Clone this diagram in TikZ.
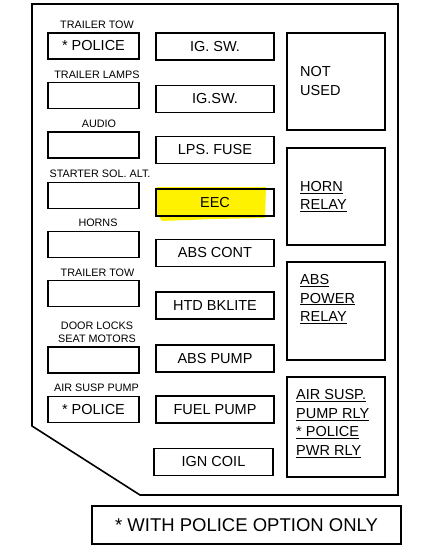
\documentclass[tikz,border=0pt]{standalone}
\usepackage{fontspec}
\setmainfont{Liberation Sans}
\usepackage{tikz}

\begin{document}
\begin{tikzpicture}[x=1pt, y=-1pt,
    fuse/.style={draw, line width=1.4pt, minimum width=91pt, minimum height=26pt, inner sep=0pt, font=\fontsize{14.5}{17}\selectfont},
    midfuse/.style={fuse, minimum width=118pt, minimum height=27pt},
    relay/.style={draw, line width=1.4pt, minimum width=98pt, minimum height=97pt, inner sep=0pt},
    relaytext/.style={anchor=west, align=left, inner sep=0pt, font=\fontsize{14.5}{18.5}\selectfont},
    tag/.style={inner sep=0pt, align=center, font=\fontsize{10.8}{13}\selectfont}]

\useasboundingbox (0,0) rectangle (434,557);

% --- PANEL OUTLINE ---
\coordinate (A) at (32,4);
\coordinate (B) at (398,4);
\coordinate (C) at (398,495);
\coordinate (D) at (140,495);
\coordinate (E) at (32,426);
\draw[line width=1.6pt, line join=miter] (A)--(B)--(C)--(D)--(E)--cycle;

% highlight behind EEC
\fill[yellow] (157,187) -- (266,187) -- (265,218) -- (215,219) -- (162,221) -- (157,214) -- cycle;

% --- LEFT COLUMN: labelled fuses ---
\node[tag] (t1) at (97,25) {TRAILER TOW};
\node[fuse] (l1) at (93.5,46) {* POLICE};
\node[tag] (t2) at (97,75) {TRAILER LAMPS};
\node[fuse] (l2) at (93.5,95.5) {};
\node[tag] (t3) at (99,124) {AUDIO};
\node[fuse] (l3) at (93.5,145) {};
\node[tag] (t4) at (100,174) {STARTER SOL. ALT.};
\node[fuse] (l4) at (93.5,195.5) {};
\node[tag] (t5) at (98,223) {HORNS};
\node[fuse] (l5) at (93.5,244.5) {};
\node[tag] (t6) at (97.5,273) {TRAILER TOW};
\node[fuse] (l6) at (93.5,293.5) {};
\node[tag] (t7) at (97,332.5) {DOOR LOCKS\\SEAT MOTORS};
\node[fuse] (l7) at (93.5,360) {};
\node[tag] (t8) at (96.5,388) {AIR SUSP PUMP};
\node[fuse] (l8) at (93.5,409.5) {* POLICE};

% --- MIDDLE COLUMN ---
\node[midfuse] (m1) at (215,46.5) {IG. SW.};
\node[midfuse] (m2) at (215,99) {IG.SW.};
\node[midfuse] (m3) at (215,150) {LPS. FUSE};
\node[midfuse] (m4) at (215,202.5) {EEC};
\node[midfuse] (m5) at (215,253) {ABS CONT};
\node[midfuse] (m6) at (215,305.5) {HTD BKLITE};
\node[midfuse] (m7) at (215,358.5) {ABS PUMP};
\node[midfuse] (m8) at (215,409.5) {FUEL PUMP};
\node[midfuse, minimum width=119pt] (m9) at (213.5,462) {IGN COIL};

% --- RIGHT COLUMN: relays ---
\node[relay] (r1) at (336,81.5) {};
\node[relaytext] (r1t) at (300,81) {NOT\\USED};
\node[relay] (r2) at (336,196.5) {};
\node[relaytext] (r2t) at (300,196.5) {\underline{HORN}\\\underline{RELAY}};
\node[relay, minimum height=98pt] (r3) at (336,311) {};
\node[relaytext] (r3t) at (300,299) {\underline{ABS}\\\underline{POWER}\\\underline{RELAY}};
\node[relay, minimum height=100pt] (r4) at (336,427) {};
\node[relaytext] (r4t) at (296,423.5) {\underline{AIR SUSP.}\\\underline{PUMP RLY}\\\underline{* POLICE}\\\underline{PWR RLY}};

% --- FOOTNOTE ---
\node[draw, line width=1.4pt, minimum width=309pt, minimum height=38pt, inner sep=0pt, font=\fontsize{18.5}{22}\selectfont] (note) at (246.5,525) {* WITH POLICE OPTION ONLY};

\end{tikzpicture}
\end{document}
